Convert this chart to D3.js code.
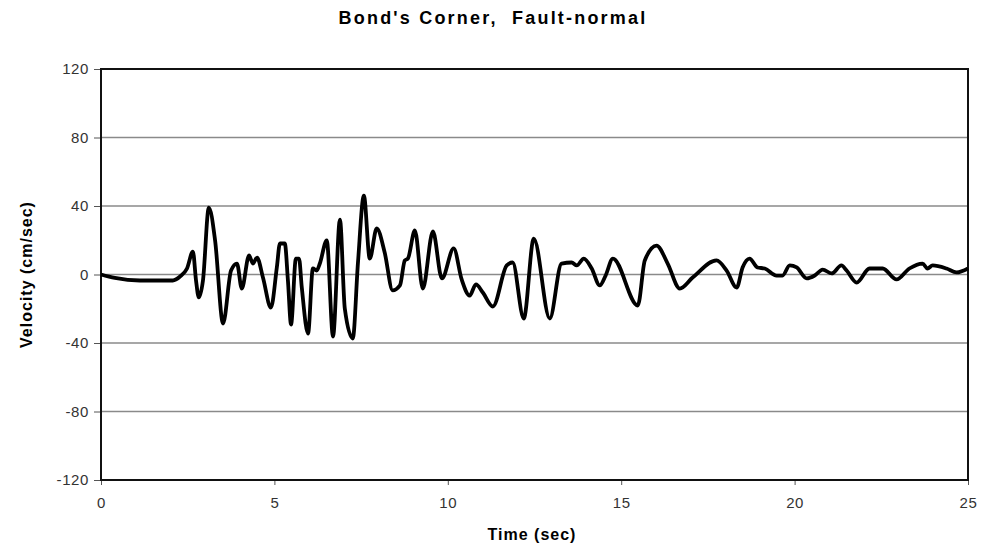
<!DOCTYPE html>
<html>
<head>
<meta charset="utf-8">
<script src="https://cdn.jsdelivr.net/npm/d3@7"></script>
<style>
  body { margin: 0; background: #fff; }
  svg text { font-family: "Liberation Sans", Arial, sans-serif; }
</style>
</head>
<body>
<div id="chart"></div>
<script>
// velocity record: time (sec) and velocity (cm/sec)
const times = [0, 0.4, 1.12, 2.07, 2.28, 2.48, 2.65, 2.74, 2.82, 2.94, 3.11, 3.29, 3.52, 3.75, 3.92,
  4.06, 4.27, 4.38, 4.5, 4.67, 4.9, 5.07, 5.16, 5.3, 5.39, 5.48, 5.62, 5.71, 5.79, 5.97, 6.11, 6.22,
  6.31, 6.51, 6.69, 6.89, 7.03, 7.26, 7.41, 7.58, 7.75, 7.95, 8.18, 8.41, 8.62, 8.76, 8.85, 9.05,
  9.28, 9.57, 9.83, 10.17, 10.4, 10.63, 10.81, 11.01, 11.3, 11.7, 11.87, 12.19, 12.48, 12.94, 13.28,
  13.57, 13.72, 13.92, 14.15, 14.38, 14.55, 14.76, 15.48, 15.68, 16.02, 16.34, 16.69, 17.06, 17.75,
  18.04, 18.33, 18.5, 18.7, 18.93, 19.14, 19.48, 19.65, 19.86, 20.06, 20.35, 20.58, 20.81, 21.07,
  21.35, 21.5, 21.79, 22.16, 22.54, 22.94, 23.31, 23.69, 23.83, 23.98, 24.38, 24.67, 25];
const velocity = [0, -2, -3.5, -3.5, -1.2, 3.5, 13.4, -3.5, -13.4, -3.5, 39.1, 19.9, -28.6, 2.3, 6.4,
  -8.2, 11.1, 6.4, 9.9, -1.8, -19.3, 4.1, 18.1, 18.1, -3.5, -29.2, 9.3, 9.3, -7.6, -34.5, 3.5, 2.3,
  6.4, 19.9, -36.2, 32.1, -19.9, -37.4, 7, 46.1, 9.3, 26.9, 12.8, -9.3, -6.4, 8.2, 9.3, 25.7,
  -8.2, 25.1, -2.3, 15.2, -2.9, -12.3, -5.8, -10.5, -18.7, 5.3, 7, -25.7, 21, -25.7, 6.4,
  7, 5.3, 9.3, 3.5, -6.4, -0.6, 9.3, -18.1, 8.2, 16.9, 6.4, -8.2, -1.8, 8.2,
  2.3, -7.6, 4.1, 9.3, 4.1, 3.5, -0.6, -0.6, 5.3, 4.1, -2.3, -0.6, 2.9, 0.6,
  5.3, 2.3, -4.7, 3.5, 3.5, -2.9, 3.5, 6.4, 3.5, 5.3, 3.5, 1.2, 3.5];
const xTicks = [0, 5, 10, 15, 20, 25];
const yTicks = [-120, -80, -40, 0, 40, 80, 120];

const data = times.map((t, i) => ({ t: t, v: velocity[i] }));

const width = 990;
const height = 545;
const margin = { top: 69, right: 22, bottom: 65, left: 101 };

const svg = d3.select("#chart")
  .append("svg")
  .attr("width", width)
  .attr("height", height);

const x = d3.scaleLinear().domain([0, 25]).range([margin.left, width - margin.right]);
const y = d3.scaleLinear().domain([-120, 120]).range([height - margin.bottom, margin.top]);

// gridlines
svg.append("g")
  .selectAll("line")
  .data(yTicks.slice(1, -1))
  .join("line")
  .attr("x1", x(0))
  .attr("x2", x(25))
  .attr("y1", d => y(d))
  .attr("y2", d => y(d))
  .attr("stroke", "#8a8a8a")
  .attr("stroke-width", 1.5);

// axes, plain hyphen for negatives like the original
const yAxis = svg.append("g")
  .attr("transform", `translate(${x(0)},0)`)
  .call(d3.axisLeft(y).tickValues(yTicks).tickSize(7).tickPadding(5).tickFormat(d => String(d)));

const xAxis = svg.append("g")
  .attr("transform", `translate(0,${y(-120)})`)
  .call(d3.axisBottom(x).tickValues(xTicks).tickSize(5).tickPadding(12).tickFormat(d => String(d)));

[xAxis, yAxis].forEach(g => {
  g.select(".domain").remove();
  g.selectAll(".tick line").attr("stroke", "#555").attr("stroke-width", 1);
  g.selectAll(".tick text")
    .attr("font-size", 15)
    .attr("letter-spacing", 0.6)
    .attr("fill", "#333");
});

// frame
svg.append("rect")
  .attr("x", x(0))
  .attr("y", y(120))
  .attr("width", x(25) - x(0))
  .attr("height", y(-120) - y(120))
  .attr("fill", "none")
  .attr("stroke", "#111")
  .attr("stroke-width", 2);

// the velocity trace
const line = d3.line()
  .x(d => x(d.t))
  .y(d => y(d.v))
  .curve(d3.curveMonotoneX);

svg.append("path")
  .datum(data)
  .attr("d", line)
  .attr("fill", "none")
  .attr("stroke", "#000")
  .attr("stroke-width", 3.8)
  .attr("stroke-linejoin", "round");

// titles
svg.append("text")
  .attr("x", 493)
  .attr("y", 24)
  .attr("text-anchor", "middle")
  .attr("font-size", 18)
  .attr("font-weight", "bold")
  .attr("letter-spacing", 2.2)
  .style("white-space", "pre")
  .text("Bond's Corner,  Fault-normal");

svg.append("text")
  .attr("x", 532)
  .attr("y", 540)
  .attr("text-anchor", "middle")
  .attr("font-size", 16)
  .attr("font-weight", "bold")
  .attr("letter-spacing", 1)
  .text("Time (sec)");

svg.append("text")
  .attr("transform", `translate(32,${y(0)}) rotate(-90)`)
  .attr("text-anchor", "middle")
  .attr("font-size", 16)
  .attr("font-weight", "bold")
  .attr("letter-spacing", 1)
  .text("Velocity (cm/sec)");
</script>
</body>
</html>
